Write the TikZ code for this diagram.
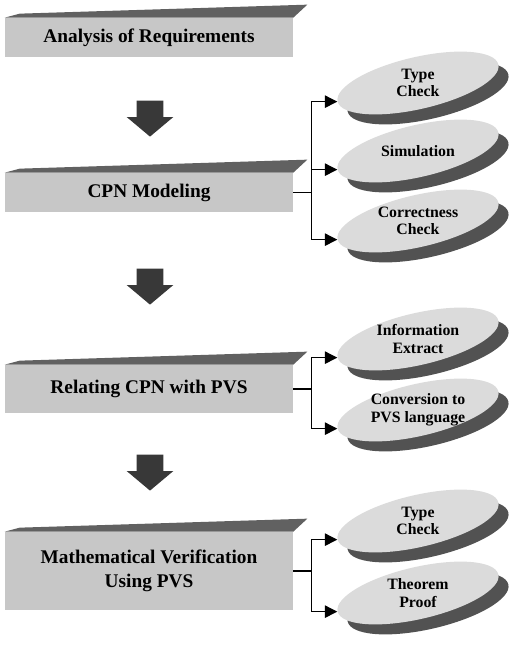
\documentclass[tikz,border=0pt]{standalone}
\usepackage{fontspec}
\setmainfont{Liberation Serif}
\usepackage{tikz}
\usetikzlibrary{shapes.geometric}
\usetikzlibrary{shapes.arrows}
\usetikzlibrary{shadows}
\usetikzlibrary{arrows.meta}

\begin{document}
\begin{tikzpicture}[x=0.02cm, y=-0.02cm,
	stage/.style={rectangle, fill=black!22, minimum width=5.76cm, inner sep=0pt, align=center, font=\fontsize{11}{14}\selectfont\bfseries},
	bevel/.style={fill=black!62},
	disc/.style={ellipse, rotate=13, minimum width=3.3cm, minimum height=1.04cm, inner sep=0pt, fill=black!14, drop shadow={shadow xshift=0.2cm, shadow yshift=-0.2cm, fill=black!68, opacity=1}},
	disctext/.style={align=center, inner sep=0pt, font=\fontsize{9}{10}\selectfont\bfseries},
	down/.style={single arrow, rotate=-90, fill=black!78, minimum height=0.72cm, inner xsep=0pt, inner ysep=0.26cm, single arrow head extend=0.2cm, single arrow tip angle=100},
	link/.style={line width=0.7pt},
	flow/.style={line width=0.7pt, -{Triangle[length=7pt, width=7pt]}}]
	\useasboundingbox (0,0) rectangle (511,650);
	\node[stage, minimum height=0.78cm] (req) at (149,37.5) {Analysis of Requirements};
	\node[stage, minimum height=0.78cm] (cpn) at (149,192.5) {CPN Modeling};
	\node[stage, minimum height=0.96cm] (rel) at (149,389) {Relating CPN with PVS};
	\node[stage, minimum height=1.56cm] (mat) at (149,571) {Mathematical Verification\\Using PVS};
	\foreach \b in {req,cpn,rel,mat}
		\fill[bevel] (\b.north west) -- (\b.north east) -- ++(14,-13) -- ([shift={(15,-4)}]\b.north west) -- cycle;
	\node[down] (a1) at (150,113) {};
	\node[down] (a2) at (150,281) {};
	\node[down] (a3) at (150,467) {};
	\node[disc] (tc1) at (418,83) {};
	\node[disc] (sim) at (418,151) {};
	\node[disc] (cc) at (418,221) {};
	\node[disc] (ie) at (418,339) {};
	\node[disc] (conv) at (418,410) {};
	\node[disc] (tc2) at (418,521) {};
	\node[disc] (tp) at (418,593) {};
	\node[disctext] (tc1t) at (tc1.center) {Type\\Check};
	\node[disctext] (simt) at (sim.center) {Simulation};
	\node[disctext] (cct) at (cc.center) {Correctness\\Check};
	\node[disctext] (iet) at (ie.center) {Information\\Extract};
	\node[disctext] (convt) at (conv.center) {Conversion to\\PVS language};
	\node[disctext] (tc2t) at (tc2.center) {Type\\Check};
	\node[disctext] (tpt) at (tp.center) {Theorem\\Proof};
	\draw[link] (cpn.east) -- ++(18,0) coordinate (cpnfork);
	\draw[flow] (cpnfork) |- (tc1.west);
	\draw[flow] (cpnfork) |- (sim.west);
	\draw[flow] (cpnfork) |- (cc.west);
	\draw[link] (rel.east) -- ++(18,0) coordinate (relfork);
	\draw[flow] (relfork) |- (ie.west);
	\draw[flow] (relfork) |- (conv.west);
	\draw[link] (mat.east) -- ++(18,0) coordinate (matfork);
	\draw[flow] (matfork) |- (tc2.west);
	\draw[flow] (matfork) |- (tp.west);
\end{tikzpicture}
\end{document}
